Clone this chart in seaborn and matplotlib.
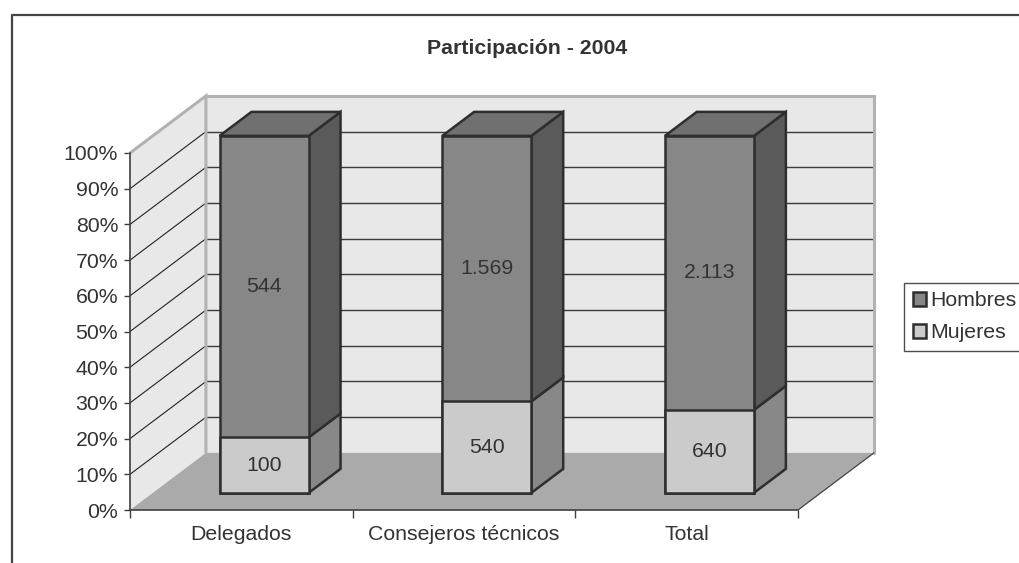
import matplotlib
matplotlib.use("Agg")
import matplotlib.pyplot as plt
import seaborn as sns
import pandas as pd
import numpy as np
from matplotlib.patches import Polygon, Patch
from matplotlib.transforms import Affine2D
from matplotlib.lines import Line2D

# ---------------- data ----------------
categories = ["Delegados", "Consejeros técnicos", "Total"]
series = ["Hombres", "Mujeres"]
hombres = [544, 1569, 2113]
mujeres = [100, 540, 640]
y_ticks = [0, 10, 20, 30, 40, 50, 60, 70, 80, 90, 100]
title = "Participación - 2004"

# ---------------- style ----------------
sns.set_theme(style="white")
plt.rcParams["font.family"] = ["Liberation Sans", "DejaVu Sans"]
FS = 15.3
TXT = "#333333"
EDGE = "#2e2e2e"
C_H_FRONT, C_H_TOP, C_H_SIDE = "#878787", "#707070", "#5a5a5a"
C_M_FRONT, C_M_SIDE = "#cbcbcb", "#888888"
WALL, WALL_EDGE, FLOOR = "#e8e8e8", "#b2b2b2", "#aaaaaa"

W, H = 1019, 563
fig = plt.figure(figsize=(W / 100, H / 100), dpi=100)
fig.patch.set_facecolor("white")
ax = fig.add_axes([130 / W, 53 / H, 668 / W, 357 / H])
ax.set_facecolor("none")

n = len(categories)
DX, DY = 0.341, 0.160          # full depth offset in data units
d0, d1 = 0.30, 0.72            # bar front / back depth fractions
bw = 0.40                      # bar width

h = np.array(hombres, float)
m = np.array(mujeres, float)
share_m = m / (h + m)
pos = np.arange(n) + 0.5

# ---------------- walls & floor ----------------
ax.add_patch(Polygon([(DX, DY), (n + DX, DY), (n + DX, 1 + DY), (DX, 1 + DY)],
                     closed=True, fc=WALL, ec="none", zorder=1, clip_on=False))
ax.add_patch(Polygon([(0, 0), (0, 1), (DX, 1 + DY), (DX, DY)],
                     closed=True, fc=WALL, ec="none", zorder=1, clip_on=False))
ax.add_patch(Polygon([(0, 0), (n, 0), (n + DX, DY), (DX, DY)],
                     closed=True, fc=FLOOR, ec="none", zorder=1.5, clip_on=False))

back = Affine2D().translate(DX, DY) + ax.transData
yt = np.array(y_ticks) / 100.0
ax.hlines(yt[1:-1], 0, n, colors="#3a3a3a", lw=1.0, transform=back, zorder=2, clip_on=False)
for yv in yt[1:-1]:
    ax.plot([0, DX], [yv, yv + DY], color="#222222", lw=0.8, zorder=2, clip_on=False)
ax.plot([0, DX, DX], [1, 1 + DY, DY], color=WALL_EDGE, lw=2.2, zorder=2.2, clip_on=False,
        solid_joinstyle="miter")
ax.plot([DX, n + DX, n + DX], [1 + DY, 1 + DY, DY], color=WALL_EDGE, lw=2.2, zorder=2.2,
        clip_on=False, solid_joinstyle="miter")
ax.plot([n, n + DX], [0, DY], color="#444444", lw=0.9, zorder=2.3, clip_on=False)

# ---------------- bar sides and tops ----------------
def face(pts, fc, z):
    ax.add_patch(Polygon(pts, closed=True, fc=fc, ec=EDGE, lw=1.8, zorder=z,
                         clip_on=False, joinstyle="miter"))

for i in range(n):
    xl, xr = pos[i] - bw / 2, pos[i] + bw / 2
    fx0, fy0 = d0 * DX, d0 * DY
    bx0, by0 = d1 * DX, d1 * DY
    segs = [(0.0, share_m[i], C_M_SIDE), (share_m[i], 1.0, C_H_SIDE)]
    for a, b, c in segs:
        face([(xr + fx0, a + fy0), (xr + fx0, b + fy0), (xr + bx0, b + by0), (xr + bx0, a + by0)], c, 4)
    face([(xl + fx0, 1 + fy0), (xr + fx0, 1 + fy0), (xr + bx0, 1 + by0), (xl + bx0, 1 + by0)], C_H_TOP, 4)

# ---------------- bar fronts (seaborn) ----------------
df = pd.DataFrame({"pos": pos, "categoria": categories,
                   "total": np.ones(n), "mujeres": share_m})
n_before = len(ax.patches)
sns.barplot(data=df, x="pos", y="total", native_scale=True, width=bw, color=C_H_FRONT,
            saturation=1, edgecolor=EDGE, linewidth=1.8, errorbar=None, ax=ax, zorder=5)
sns.barplot(data=df, x="pos", y="mujeres", native_scale=True, width=bw, color=C_M_FRONT,
            saturation=1, edgecolor=EDGE, linewidth=1.8, errorbar=None, ax=ax, zorder=6)
front = Affine2D().translate(d0 * DX, d0 * DY) + ax.transData
for p in ax.patches[n_before:]:
    p.set_transform(front)
    p.set_clip_on(False)
    p.set_joinstyle("miter")

# ---------------- value labels ----------------
def fmt(v):
    return f"{v:,}".replace(",", ".")

for i in range(n):
    cx = pos[i] + d0 * DX
    ax.text(cx, share_m[i] / 2 + d0 * DY, fmt(mujeres[i]), ha="center", va="center",
            fontsize=FS, color=TXT, zorder=10)
    ax.text(cx, (share_m[i] + 1) / 2 + d0 * DY, fmt(hombres[i]), ha="center", va="center",
            fontsize=FS, color=TXT, zorder=10)

# ---------------- axes ----------------
ax.set_xlim(0, n)
ax.set_ylim(0, 1)
ax.set_xlabel("")
ax.set_ylabel("")
ax.set_yticks(yt)
ax.set_yticklabels([f"{t}%" for t in y_ticks])
ax.set_xticks(np.arange(n + 1))
ax.set_xticklabels([])
ax.set_xticks(pos, minor=True)
ax.set_xticklabels(categories, minor=True)
ax.tick_params(axis="y", left=True, length=4.5, width=1.0, color="#404040", pad=4,
               labelsize=FS, labelcolor=TXT)
ax.tick_params(axis="x", which="major", bottom=True, length=6, width=1.0, color="#404040")
ax.tick_params(axis="x", which="minor", bottom=True, length=0, pad=10.5,
               labelsize=FS, labelcolor=TXT)
for s in ["top", "right"]:
    ax.spines[s].set_visible(False)
for s in ["left", "bottom"]:
    ax.spines[s].set_color("#404040")
    ax.spines[s].set_linewidth(1.2)
    ax.spines[s].set_zorder(3)

# ---------------- title, legend, frame ----------------
fig.text(527 / W, 1 - 48.5 / H, title, ha="center", va="center", fontsize=FS,
         fontweight="bold", color=TXT)

handles = [Patch(fc=C_H_FRONT, ec=EDGE, lw=1.8), Patch(fc=C_M_FRONT, ec=EDGE, lw=1.8)]
leg = fig.legend(handles, series, loc="upper left", bbox_to_anchor=(904 / W, 1 - 283 / H),
                 borderaxespad=0, fontsize=FS, frameon=True, fancybox=False, shadow=False,
                 handlelength=0.62, handleheight=0.62, handletextpad=0.2,
                 labelspacing=0.6, borderpad=0.4)
leg.get_frame().set_edgecolor("#222222")
leg.get_frame().set_linewidth(1.0)
for t in leg.get_texts():
    t.set_color(TXT)

fig.add_artist(Line2D([11.5 / W, 11.5 / W, 1.0], [0.0, 1 - 14.5 / H, 1 - 14.5 / H],
                      transform=fig.transFigure, color="#444444", lw=1.6))

fig.savefig("out.png", dpi=100)
